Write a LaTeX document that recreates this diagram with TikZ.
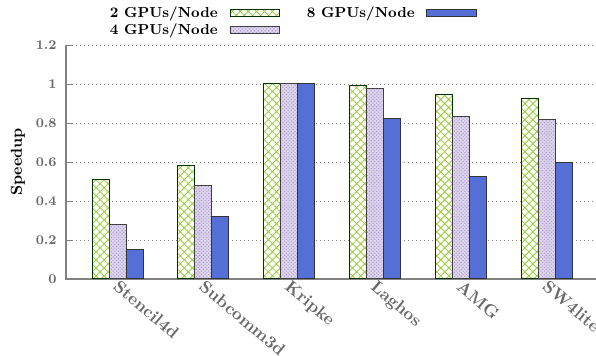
\documentclass[tikz,border=0pt]{standalone}
\usetikzlibrary{patterns.meta}
\definecolor{hatchgreen}{RGB}{154,205,50}
\definecolor{checkpurple}{RGB}{170,150,208}
\definecolor{barblue}{RGB}{84,112,214}
\definecolor{axisgray}{RGB}{130,130,130}
\definecolor{labelgray}{RGB}{105,105,105}
\tikzset{
	gpustwo/.style={draw=black!80!green, line width=0.6pt, preaction={fill=white},
		pattern={Hatch[angle=45,distance=3.4pt,line width=0.5pt]}, pattern color=hatchgreen},
	gpusfour/.style={draw=black!75, line width=0.6pt, preaction={fill=checkpurple!40},
		pattern={Dots[angle=45,distance=1.5pt,radius=0.45pt]}, pattern color=checkpurple},
	gpuseight/.style={draw=black!80, line width=0.6pt, fill=barblue},
	gridline/.style={axisgray, dotted, line width=0.4pt},
	ticklabel/.style={labelgray, font=\fontsize{8}{9}\selectfont\bfseries, anchor=east, inner sep=0pt},
	benchlabel/.style={labelgray, font=\fontsize{10.3}{11}\selectfont\bfseries, rotate=-40, anchor=north west, inner sep=0pt},
	legendlabel/.style={font=\fontsize{8.7}{10}\selectfont\bfseries, anchor=east, inner sep=0pt}
}
\begin{document}
\begin{tikzpicture}[x=0.6pt, y=0.6pt]
		\useasboundingbox (0,0) rectangle (596,356);
		% grid and axis, 1.0 speedup = 195 units above the base line at 77
		\foreach \v [count=\i] in {0,0.2,0.4,0.6,0.8,1,1.2} {
			\draw[gridline] (72,{77+195*\v}) -- (596,{77+195*\v});
			\draw[axisgray, line width=0.5pt] (66,{77+195*\v}) -- (72,{77+195*\v});
			\node[ticklabel] (tick\i) at (57,{77+195*\v}) {\v};
		}
		\draw[axisgray, line width=0.7pt] (66,311) -- (66,77) -- (596,77);
		\node[rotate=90, font=\fontsize{9.5}{10}\selectfont\bfseries] (ylabel) at (18,194) {Speedup};
		% bars: 2, 4 and 8 GPUs per node
		\foreach \x/\a/\b/\c/\bench [count=\i] in {92/0.51/0.277/0.149/Stencil4d, 177.8/0.58/0.478/0.32/Subcomm3d,
				263.6/1/1/1/Kripke, 349.4/0.993/0.976/0.824/Laghos, 435.2/0.947/0.834/0.525/AMG,
				521/0.925/0.82/0.598/SW4lite} {
			\draw[gpustwo] (\x,77) rectangle ++(17,{195*\a});
			\draw[gpusfour] ({\x+17},77) rectangle ++(17,{195*\b});
			\draw[gpuseight] ({\x+34},77) rectangle ++(17,{195*\c});
			\node[benchlabel] (bench\i) at ({\x+28},77) {\bench};
		}
		% legend
		\node[legendlabel] (leg2) at (218,342) {2 GPUs/Node};
		\node[legendlabel] (leg4) at (218,325) {4 GPUs/Node};
		\node[legendlabel] (leg8) at (415,342) {8 GPUs/Node};
		\draw[gpustwo] (230,339) rectangle (279,346);
		\draw[gpusfour] (230,322) rectangle (279,329);
		\draw[gpuseight] (426,339) rectangle (476,346);
	\end{tikzpicture}
\end{document}
